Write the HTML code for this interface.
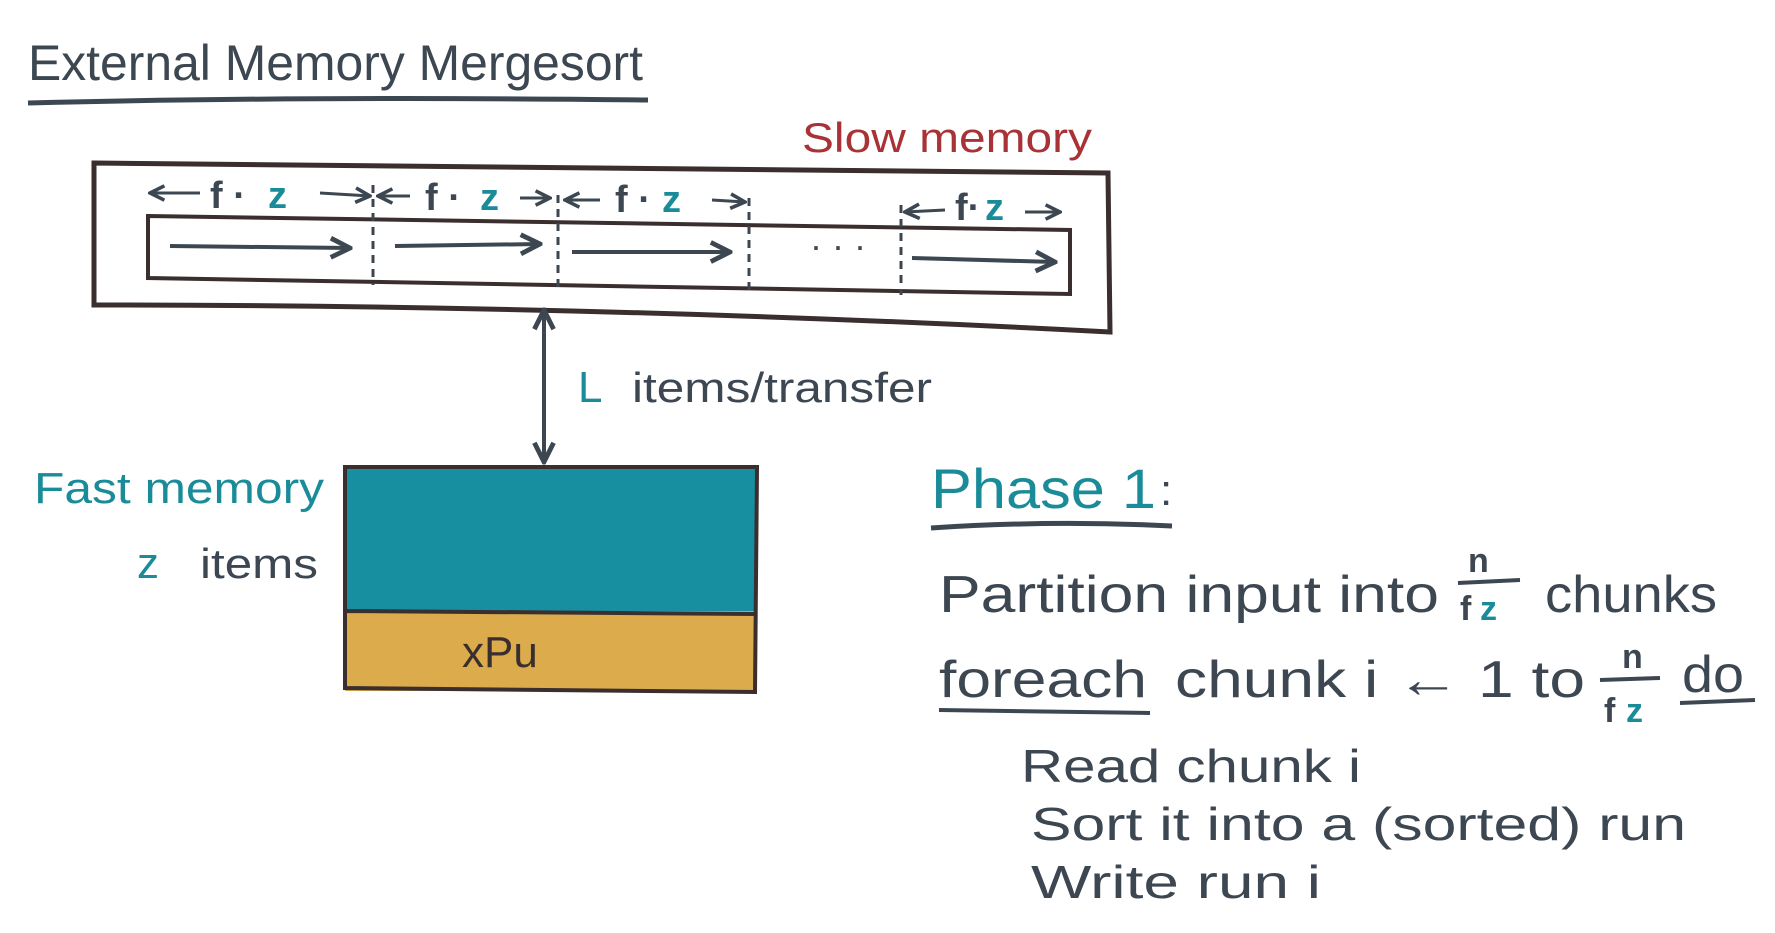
<!DOCTYPE html>
<html><head><meta charset="utf-8"><style>
html,body{margin:0;padding:0;background:#fff;}
svg{display:block;}
text{font-family:"Liberation Sans",sans-serif;}
</style></head><body>
<svg width="1775" height="933" viewBox="0 0 1775 933" xmlns="http://www.w3.org/2000/svg">
<defs>
<marker id="ah" viewBox="0 0 10 10" refX="9" refY="5" markerWidth="6" markerHeight="6" orient="auto-start-reverse">
<path d="M1,1 L9,5 L1,9" fill="none" stroke="#3d4752" stroke-width="2"/></marker>
</defs>
<g fill="#3d4752" stroke="none">
<text x="28" y="80" font-size="50" textLength="615" lengthAdjust="spacingAndGlyphs">External Memory Mergesort</text>
</g>
<path d="M28,103 Q300,96 648,100" stroke="#3d4752" stroke-width="5" fill="none"/>
<text x="802" y="152" font-size="42" fill="#a83236" textLength="290" lengthAdjust="spacingAndGlyphs">Slow memory</text>
<path d="M94,163 L1108,173 L1110,332 Q600,305 94,305 Z" fill="none" stroke="#3a2e2e" stroke-width="5"/>
<path d="M148,216 L1070,230 L1070,294 L148,278 Z" fill="none" stroke="#3a2e2e" stroke-width="4"/>
<g stroke="#3d4752" stroke-width="3" stroke-dasharray="8,6">
<line x1="373" y1="185" x2="373" y2="285"/><line x1="558" y1="195" x2="558" y2="288"/>
<line x1="749" y1="198" x2="749" y2="290"/><line x1="901" y1="205" x2="901" y2="295"/>
</g>
<g stroke="#3d4752" stroke-width="4" fill="none" marker-end="url(#ah)">
<line x1="170" y1="246" x2="350" y2="248"/><line x1="395" y1="246" x2="540" y2="244"/>
<line x1="572" y1="252" x2="730" y2="252"/><line x1="912" y1="258" x2="1055" y2="262"/>
</g>
<text x="810" y="258" font-size="36" fill="#3d4752">· · ·</text>
<g stroke="#3d4752" stroke-width="3" fill="none" marker-end="url(#ah)">
<line x1="200" y1="193" x2="150" y2="193"/><line x1="320" y1="193" x2="370" y2="196"/>
<line x1="410" y1="196" x2="378" y2="196"/><line x1="520" y1="198" x2="550" y2="198"/>
<line x1="600" y1="200" x2="565" y2="200"/><line x1="712" y1="200" x2="745" y2="202"/>
<line x1="945" y1="210" x2="905" y2="212"/><line x1="1025" y1="212" x2="1060" y2="212"/>
</g>
<g font-size="38" font-weight="bold">
<text x="210" y="208" fill="#3d4752">f ·</text><text x="268" y="208" fill="#1a8b99">z</text>
<text x="425" y="210" fill="#3d4752">f ·</text><text x="480" y="210" fill="#1a8b99">z</text>
<text x="615" y="212" fill="#3d4752">f ·</text><text x="662" y="212" fill="#1a8b99">z</text>
<text x="955" y="220" fill="#3d4752">f·</text><text x="985" y="220" fill="#1a8b99">z</text>
</g>
<line x1="544" y1="310" x2="544" y2="462" stroke="#3d4752" stroke-width="4" marker-end="url(#ah)" marker-start="url(#ah)"/>
<text x="578" y="402" font-size="44" fill="#1a8b99">L</text>
<text x="632" y="402" font-size="42" fill="#3d4752" textLength="300" lengthAdjust="spacingAndGlyphs">items/transfer</text>
<rect x="345" y="467" width="412" height="144" fill="#178fa1"/>
<rect x="345" y="611" width="410" height="80" fill="#dcab4c"/>
<path d="M345,467 L757,467 L755,692 L345,688 Z M345,611 L757,614" fill="none" stroke="#3a2e2e" stroke-width="4"/>
<text x="462" y="667" font-size="44" fill="#3a2e2e">xPu</text>
<text x="34" y="503" font-size="44" fill="#1a8b99" textLength="290" lengthAdjust="spacingAndGlyphs">Fast memory</text>
<text x="137" y="578" font-size="44" fill="#1a8b99">z</text>
<text x="200" y="578" font-size="42" fill="#3d4752" textLength="118" lengthAdjust="spacingAndGlyphs">items</text>
<text x="931" y="508" font-size="56" fill="#1a8b99" textLength="225" lengthAdjust="spacingAndGlyphs">Phase 1</text>
<text x="1160" y="505" font-size="44" fill="#3d4752">:</text>
<path d="M931,528 Q1050,520 1172,526" stroke="#3d4752" stroke-width="5" fill="none"/>
<g font-size="52" fill="#3d4752">
<text x="939" y="612" textLength="500" lengthAdjust="spacingAndGlyphs">Partition input into</text>
<text x="1545" y="612" textLength="172" lengthAdjust="spacingAndGlyphs">chunks</text>
<text x="939" y="697" textLength="208" lengthAdjust="spacingAndGlyphs">foreach</text>
<text x="1175" y="697" textLength="410" lengthAdjust="spacingAndGlyphs">chunk  i ← 1  to</text>
<text x="1682" y="692" textLength="62" lengthAdjust="spacingAndGlyphs">do</text>
</g>
<path d="M939,710 L1150,713 M1680,703 L1755,700" stroke="#3d4752" stroke-width="4" fill="none"/>
<g font-size="34" font-weight="bold">
<text x="1468" y="572" fill="#3d4752">n</text>
<line x1="1458" y1="583" x2="1520" y2="580" stroke="#3d4752" stroke-width="4"/>
<text x="1460" y="620" fill="#3d4752">f</text><text x="1480" y="620" fill="#1a8b99">z</text>
<text x="1622" y="668" fill="#3d4752">n</text>
<line x1="1600" y1="680" x2="1660" y2="678" stroke="#3d4752" stroke-width="4"/>
<text x="1604" y="722" fill="#3d4752">f</text><text x="1626" y="722" fill="#1a8b99">z</text>
</g>
<g font-size="46" fill="#3d4752">
<text x="1021" y="782" textLength="340" lengthAdjust="spacingAndGlyphs">Read chunk i</text>
<text x="1031" y="840" textLength="655" lengthAdjust="spacingAndGlyphs">Sort it into a (sorted) run</text>
<text x="1031" y="898" textLength="290" lengthAdjust="spacingAndGlyphs">Write run i</text>
</g>
</svg>
</body></html>
